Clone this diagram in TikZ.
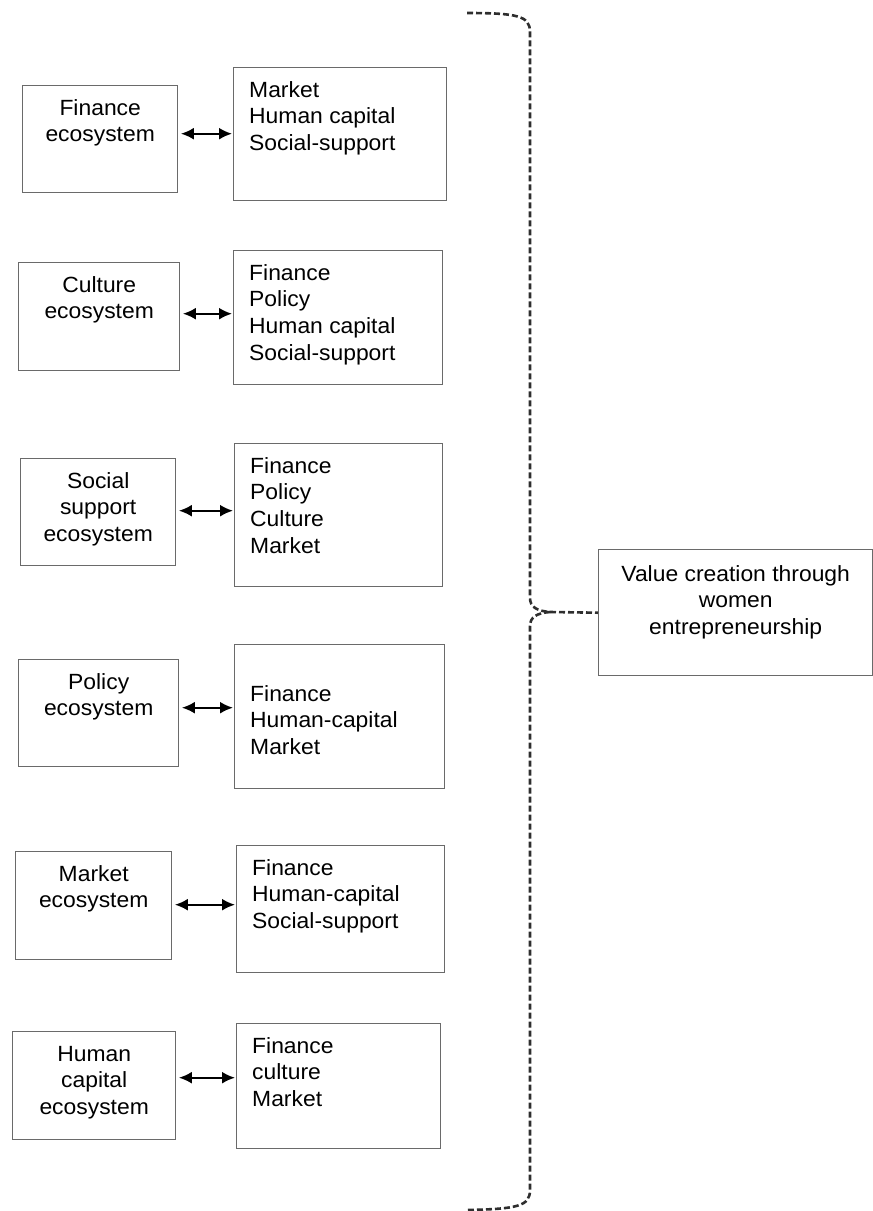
\documentclass[tikz,border=0pt]{standalone}
\usepackage{fontspec}
\setmainfont{Liberation Sans}[FakeStretch=1.04]
\usetikzlibrary{arrows.meta}
\definecolor{boxline}{HTML}{6A6A6A}
\definecolor{bracecol}{HTML}{2E2E2E}
\begin{document}
\begin{tikzpicture}[x=1pt,y=-1pt,
  box/.style={draw=boxline, line width=1.4pt, inner sep=0pt, anchor=north west},
  lbl/.style={font=\fontsize{22}{26.7}\selectfont, inner sep=0pt, text=black},
  ltext/.style={lbl, align=center, anchor=north, yshift=-11.3pt},
  rtext/.style={lbl, align=left, anchor=north west, xshift=16pt, yshift=-11.3pt},
  biarrow/.style={draw=black, line width=2.1pt, {Latex[length=13pt,width=12pt]}-{Latex[length=13pt,width=12pt]}, shorten <=2.5pt, shorten >=1pt},
  brace/.style={draw=bracecol, line width=2.6pt, dash pattern=on 6pt off 3pt}]
\useasboundingbox (0,0) rectangle (873,1211);

% ecosystem boxes (left column)
\node[box, minimum width=155pt, minimum height=107pt] (L1) at (22,85) {};
\node[box, minimum width=161pt, minimum height=108pt] (L2) at (18,262) {};
\node[box, minimum width=155pt, minimum height=107pt] (L3) at (20,458) {};
\node[box, minimum width=160pt, minimum height=107pt] (L4) at (18,659) {};
\node[box, minimum width=156pt, minimum height=108pt] (L5) at (15,851) {};
\node[box, minimum width=163pt, minimum height=108pt] (L6) at (12,1031) {};

\node[ltext] (tL1) at (L1.north) {\strut Finance\\ecosystem};
\node[ltext] (tL2) at (L2.north) {\strut Culture\\ecosystem};
\node[ltext] (tL3) at (L3.north) {\strut Social\\support\\ecosystem};
\node[ltext] (tL4) at (L4.north) {\strut Policy\\ecosystem};
\node[ltext] (tL5) at (L5.north) {\strut Market\\ecosystem};
\node[ltext] (tL6) at (L6.north) {\strut Human\\capital\\ecosystem};

% linked factor boxes (right column)
\node[box, minimum width=213pt, minimum height=133pt] (R1) at (233,67) {};
\node[box, minimum width=209pt, minimum height=134pt] (R2) at (233,250) {};
\node[box, minimum width=208pt, minimum height=143pt] (R3) at (234,443) {};
\node[box, minimum width=210pt, minimum height=144pt] (R4) at (234,644) {};
\node[box, minimum width=208pt, minimum height=127pt] (R5) at (236,845) {};
\node[box, minimum width=204pt, minimum height=125pt] (R6) at (236,1023) {};

\node[rtext] (tR1) at (R1.north west) {\strut Market\\Human capital\\Social-support};
\node[rtext] (tR2) at (R2.north west) {\strut Finance\\Policy\\Human capital\\Social-support};
\node[rtext] (tR3) at (R3.north west) {\strut Finance\\Policy\\Culture\\Market};
\node[rtext, yshift=-27pt] (tR4) at (R4.north west) {\strut Finance\\Human-capital\\Market};
\node[rtext] (tR5) at (R5.north west) {\strut Finance\\Human-capital\\Social-support};
\node[rtext] (tR6) at (R6.north west) {\strut Finance\\culture\\Market};

% two-way links
\draw[biarrow] ([yshift=5.5pt]L1.east) -- ([yshift=5.5pt]L1.east -| R1.west);
\draw[biarrow] ([yshift=3pt]L2.east) -- ([yshift=3pt]L2.east -| R2.west);
\draw[biarrow] ([yshift=1.5pt]L3.east) -- ([yshift=1.5pt]L3.east -| R3.west);
\draw[biarrow] ([yshift=5.5pt]L4.east) -- ([yshift=5.5pt]L4.east -| R4.west);
\draw[biarrow] ([yshift=1pt]L5.east) -- ([yshift=1pt]L5.east -| R5.west);
\draw[biarrow] ([yshift=8pt]L6.east) -- ([yshift=8pt]L6.east -| R6.west);

% outcome box
\node[box, minimum width=274pt, minimum height=126pt] (V) at (598,549) {};
\node[lbl, align=center, anchor=north, yshift=-13.3pt] (tV) at (V.north)
  {\strut Value creation through\\women\\entrepreneurship};

% dashed brace gathering all ecosystems
\coordinate (btop) at (467,13);
\coordinate (bbot) at (467,1210);
\coordinate (tip) at (550,612);
\draw[brace] (btop) .. controls (518,13) and (530,16) .. (530,32) -- (530,598)
  .. controls (530,607) and (537,611) .. (tip);
\draw[brace] (tip) .. controls (537,613) and (530,617) .. (530,626) -- (530,1190)
  .. controls (530,1206) and (518,1209) .. (bbot);
\draw[brace] (tip) -- (V.west);
\end{tikzpicture}
\end{document}
